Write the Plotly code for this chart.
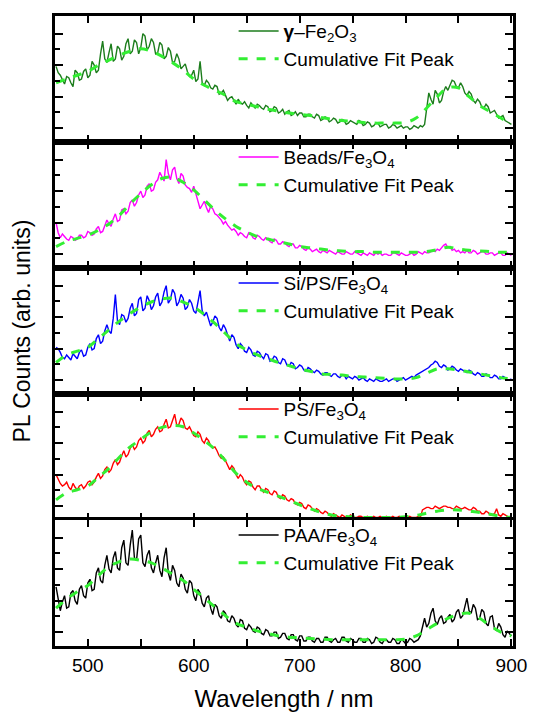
import plotly.graph_objects as go

# Sampling grids (nm)
wavelength = list(range(470, 901, 2))
fit_wavelength = list(range(470, 910, 10))

# PL spectra, relative counts per panel (one row = 48 nm)
gamma_fe2o3 = [
    60, 55, 53, 50, 46, 52, 51, 47, 44, 57, 55, 49, 50, 56, 58, 51, 53, 64, 61, 55, 57, 70, 80, 66,
    63, 71, 78, 64, 66, 76, 74, 65, 68, 78, 82, 70, 72, 81, 79, 70, 75, 86, 84, 73, 76, 82, 79, 70,
    71, 79, 77, 66, 68, 75, 72, 63, 64, 70, 66, 58, 60, 62, 56, 52, 53, 57, 48, 50, 64, 47, 45, 49,
    47, 43, 42, 45, 44, 38, 39, 41, 37, 33, 35, 36, 33, 30, 34, 31, 30, 32, 29, 27, 31, 29, 27, 30,
    29, 27, 26, 29, 28, 24, 25, 28, 27, 23, 24, 26, 22, 24, 25, 21, 22, 24, 21, 23, 23, 20, 20, 22,
    22, 20, 19, 22, 21, 17, 18, 20, 19, 16, 17, 19, 18, 15, 16, 18, 17, 14, 15, 17, 16, 15, 14, 17,
    16, 13, 14, 16, 15, 12, 13, 15, 15, 12, 13, 14, 14, 11, 12, 14, 13, 11, 12, 13, 11, 12, 12, 10,
    11, 13, 12, 11, 13, 12, 14, 28, 39, 34, 30, 41, 38, 31, 33, 40, 44, 41, 45, 49, 48, 44, 43, 47,
    44, 39, 37, 40, 38, 33, 31, 34, 32, 28, 27, 30, 28, 23, 24, 25, 22, 19, 20, 21, 17, 16, 15, 14,
]
beads_fe3o4 = [
    36, 28, 24, 27, 25, 23, 22, 25, 24, 22, 23, 26, 26, 24, 25, 29, 28, 26, 27, 31, 33, 28, 29, 34,
    38, 35, 33, 39, 43, 37, 38, 46, 47, 43, 45, 52, 54, 49, 52, 58, 61, 56, 58, 65, 67, 61, 62, 68,
    70, 76, 72, 69, 86, 75, 70, 78, 80, 71, 67, 75, 73, 66, 64, 63, 60, 65, 59, 52, 47, 50, 53, 48,
    44, 49, 47, 43, 42, 40, 38, 35, 37, 34, 32, 30, 31, 29, 26, 28, 27, 25, 24, 28, 27, 24, 23, 26,
    25, 23, 22, 24, 23, 21, 20, 23, 22, 19, 19, 21, 20, 18, 17, 19, 19, 16, 16, 18, 17, 15, 14, 16,
    15, 13, 14, 15, 13, 12, 14, 13, 12, 14, 13, 12, 11, 13, 12, 11, 11, 13, 12, 11, 11, 13, 12, 11,
    10, 12, 11, 10, 12, 11, 10, 12, 11, 12, 10, 11, 11, 10, 10, 12, 12, 11, 10, 12, 11, 10, 10, 11,
    12, 10, 11, 13, 12, 11, 13, 12, 12, 13, 14, 13, 15, 14, 16, 18, 19, 16, 17, 14, 15, 13, 14, 12,
    13, 12, 14, 12, 12, 14, 13, 11, 12, 13, 13, 11, 11, 12, 12, 10, 11, 12, 12, 10, 10, 12, 11, 10,
]
si_ps_fe3o4 = [
    37, 36, 33, 29, 28, 31, 29, 27, 32, 30, 28, 33, 35, 30, 31, 37, 40, 35, 36, 44, 47, 40, 42, 50,
    55, 50, 48, 60, 79, 58, 55, 63, 62, 57, 60, 68, 72, 62, 64, 75, 77, 66, 68, 78, 74, 67, 70, 77,
    80, 70, 73, 81, 86, 72, 75, 83, 80, 70, 73, 79, 76, 67, 69, 75, 72, 66, 64, 73, 82, 66, 62, 65,
    60, 54, 57, 62, 60, 53, 50, 55, 52, 46, 42, 47, 45, 39, 36, 40, 38, 34, 33, 37, 35, 31, 30, 34,
    33, 30, 28, 32, 31, 26, 27, 30, 29, 25, 24, 28, 27, 23, 22, 25, 24, 20, 21, 23, 22, 19, 18, 21,
    20, 18, 17, 19, 18, 16, 15, 17, 17, 15, 14, 16, 16, 14, 13, 15, 15, 12, 14, 13, 12, 14, 13, 11,
    12, 13, 11, 10, 12, 11, 10, 12, 11, 10, 10, 11, 12, 10, 11, 12, 12, 10, 11, 12, 13, 11, 12, 13,
    14, 13, 15, 16, 17, 18, 19, 20, 21, 23, 24, 26, 25, 22, 21, 23, 22, 19, 20, 22, 21, 19, 18, 20,
    19, 18, 17, 19, 18, 16, 15, 17, 16, 14, 14, 16, 15, 13, 13, 15, 14, 12, 12, 14, 13, 11, 11, 12,
]
ps_fe3o4 = [
    36, 32, 29, 27, 28, 30, 26, 24, 29, 26, 24, 27, 28, 25, 27, 30, 31, 28, 30, 34, 37, 33, 35, 40,
    42, 38, 40, 45, 48, 44, 46, 51, 55, 50, 52, 57, 60, 56, 58, 63, 65, 61, 63, 69, 71, 66, 68, 72,
    74, 70, 71, 76, 80, 73, 74, 79, 84, 75, 76, 81, 79, 73, 72, 74, 70, 67, 66, 70, 68, 63, 61, 65,
    63, 59, 57, 58, 55, 51, 49, 50, 47, 43, 40, 43, 41, 36, 33, 36, 34, 30, 28, 31, 30, 26, 24, 27,
    27, 24, 22, 25, 24, 21, 20, 23, 22, 18, 17, 20, 19, 16, 15, 17, 16, 13, 12, 14, 13, 10, 9, 12,
    11, 9, 7, 9, 8, 6, 5, 7, 6, 4, 3, 5, 4, 3, 2, 4, 3, 2, 2, 4, 3, 2, 2, 3,
    3, 2, 2, 3, 2, 2, 3, 2, 2, 3, 2, 2, 3, 2, 2, 3, 2, 2, 3, 2, 2, 2, 2, 3,
    2, 2, 2, 3, 2, 8, 9, 10, 10, 9, 9, 11, 10, 9, 10, 11, 11, 10, 10, 9, 9, 11, 10, 9,
    9, 10, 9, 8, 8, 10, 9, 7, 7, 5, 5, 7, 6, 4, 4, 5, 9, 4, 3, 5, 4, 3, 2, 3,
]
paa_fe3o4 = [
    47, 36, 28, 35, 40, 30, 31, 42, 44, 36, 33, 45, 48, 40, 38, 50, 53, 44, 45, 58, 62, 52, 50, 64,
    72, 61, 58, 70, 75, 62, 60, 78, 84, 66, 64, 80, 92, 70, 68, 85, 88, 66, 63, 72, 76, 62, 58, 66,
    72, 60, 55, 70, 78, 58, 52, 64, 60, 50, 47, 57, 54, 45, 42, 52, 50, 40, 36, 45, 42, 34, 31, 38,
    40, 30, 25, 33, 31, 24, 22, 28, 26, 20, 19, 24, 22, 17, 15, 21, 20, 14, 13, 17, 15, 12, 11, 15,
    14, 10, 9, 13, 12, 8, 8, 11, 11, 6, 7, 10, 10, 6, 5, 9, 9, 5, 4, 8, 8, 4, 4, 7,
    7, 4, 3, 6, 6, 3, 3, 7, 7, 4, 3, 5, 6, 3, 3, 7, 7, 4, 3, 6, 5, 3, 3, 6,
    6, 3, 3, 6, 5, 2, 3, 7, 6, 3, 2, 5, 5, 3, 3, 6, 5, 2, 2, 5, 4, 2, 3, 6,
    5, 3, 4, 5, 8, 14, 22, 15, 18, 26, 30, 20, 17, 22, 24, 18, 19, 23, 25, 19, 21, 27, 29, 22,
    24, 31, 38, 28, 26, 33, 30, 21, 22, 29, 27, 18, 16, 23, 24, 14, 12, 18, 15, 9, 7, 12, 10, 8,
]

# Cumulative fit peaks (470-900 nm, 10 nm steps)
gamma_fit = [
    47, 50, 53, 56, 61, 65, 69, 72, 74, 72, 68,
    63, 57, 50, 45, 41, 37, 32, 30, 28, 26, 24.5,
    23, 22, 21, 19.5, 18, 17, 16.5, 15.5, 15, 15, 15,
    15.5, 19, 27, 36, 43, 43, 36, 29, 24, 19, 14,
]
beads_fit = [
    17, 21, 23.5, 26, 30, 35, 42, 51, 59, 66, 71,
    72, 68, 62, 54, 46, 39, 33, 28.5, 25, 23, 21,
    19, 17, 16, 15, 14, 13.5, 13, 13, 12.5, 12.5, 12.5,
    12.5, 12.5, 13, 14.5, 16.5, 15, 14, 13.5, 13, 12.5, 12.5,
]
si_ps_fit = [
    25, 31, 34, 37, 44, 51, 58, 64, 69, 73, 75.5,
    76, 73, 69, 63, 56, 48, 40, 35, 31, 28, 25,
    22.5, 20, 18, 16, 15.5, 15, 14, 13.5, 13, 12.5, 12,
    12, 13, 16.5, 20, 20, 19, 17.5, 16, 14.5, 13, 12,
]
ps_fit = [
    16, 21.5, 24, 27, 34, 41, 50, 58, 64, 70, 73.5,
    75, 74, 69, 63, 56, 47, 37, 30, 25, 22, 19,
    15.5, 12, 9, 6, 4, 3, 2.5, 2, 2, 2, 2,
    2.5, 3.5, 5.5, 7, 8, 8, 7, 6, 4.5, 3, 2,
]
paa_fit = [
    30, 37.5, 43, 48, 56, 63, 67, 69, 68, 66, 62,
    57, 52, 45, 38, 31, 24, 18, 15, 12, 10, 8,
    7, 6.5, 6, 5.5, 5, 5, 5, 5, 5, 5, 5,
    5.5, 8, 13, 18, 22, 25, 26, 22, 16, 11, 8,
]

sample_names = [
    "<b>γ</b>–Fe<sub>2</sub>O<sub>3</sub>",
    "Beads/Fe<sub>3</sub>O<sub>4</sub>",
    "Si/PS/Fe<sub>3</sub>O<sub>4</sub>",
    "PS/Fe<sub>3</sub>O<sub>4</sub>",
    "PAA/Fe<sub>3</sub>O<sub>4</sub>",
]
spectra = [gamma_fe2o3, beads_fe3o4, si_ps_fe3o4, ps_fe3o4, paa_fe3o4]
fits = [gamma_fit, beads_fit, si_ps_fit, ps_fit, paa_fit]
line_colors = ["#1c7d1c", "#ff00ff", "#0000ff", "#ff0000", "#000000"]
fit_color = "#33ee33"

x_tickvals = [500, 550, 600, 650, 700, 750, 800, 850, 900]
x_ticktext = ["500", "", "600", "", "700", "", "800", "", "900"]

FONT = "Liberation Sans, Arial, sans-serif"
n_panels = len(spectra)
panel_h = 1.0 / n_panels

fig = go.Figure()
layout = dict(
    width=539, height=720,
    margin=dict(l=55, r=17, t=15, b=63),
    paper_bgcolor="white", plot_bgcolor="white",
    font=dict(family=FONT, color="black"),
    showlegend=True,
)

for i in range(n_panels):
    k = i + 1
    sfx = "" if k == 1 else str(k)
    leg = "legend" if k == 1 else f"legend{k}"
    fig.add_trace(go.Scatter(
        x=wavelength, y=spectra[i], mode="lines", name=sample_names[i],
        line=dict(color=line_colors[i], width=1.4),
        xaxis=f"x{sfx}", yaxis=f"y{sfx}", legend=leg,
    ))
    fig.add_trace(go.Scatter(
        x=fit_wavelength, y=fits[i], mode="lines", name="Cumulative Fit Peak",
        line=dict(color=fit_color, width=3, dash="dash", shape="spline"),
        xaxis=f"x{sfx}", yaxis=f"y{sfx}", legend=leg,
    ))

    top = 1 - i * panel_h
    bottom = top - panel_h
    layout[f"xaxis{sfx}"] = dict(
        range=[469, 901.5], anchor=f"y{sfx}",
        showline=True, linecolor="black", linewidth=2.5, mirror="allticks",
        ticks="inside", ticklen=7, tickwidth=2, tickcolor="black",
        tickvals=x_tickvals, ticktext=x_ticktext,
        showticklabels=(k == n_panels), showgrid=False, zeroline=False,
        tickfont=dict(size=19, family=FONT, color="black"),
    )
    if k != 1:
        layout[f"xaxis{sfx}"]["matches"] = "x"
    layout[f"yaxis{sfx}"] = dict(
        domain=[max(bottom, 0), top], range=[0, 100], anchor=f"x{sfx}",
        showline=True, linecolor="black", linewidth=2.5, mirror="allticks",
        ticks="inside", ticklen=8, tickwidth=2, tickcolor="black",
        tickvals=[11, 36, 61, 86], showticklabels=False,
        minor=dict(tickvals=[23.5, 48.5, 73.5], ticks="inside", ticklen=5,
                   tickwidth=2, tickcolor="black"),
        showgrid=False, zeroline=False, fixedrange=True,
    )
    layout[leg] = dict(
        x=0.39, y=top + 0.006, xanchor="left", yanchor="top",
        bgcolor="rgba(0,0,0,0)", borderwidth=0,
        font=dict(size=19, family=FONT, color="black"),
        itemwidth=40, tracegroupgap=0,
    )

layout["xaxis5"]["title"] = dict(text="Wavelength / nm",
                                 font=dict(size=24, family=FONT, color="black"),
                                 standoff=16)

fig.update_layout(**layout)
fig.add_annotation(
    text="PL Counts (arb. units)", xref="paper", yref="paper",
    x=-0.071, y=0.5, xanchor="center", yanchor="middle",
    textangle=-90, showarrow=False,
    font=dict(size=23, family=FONT, color="black"),
)

fig.write_html("out.html")
